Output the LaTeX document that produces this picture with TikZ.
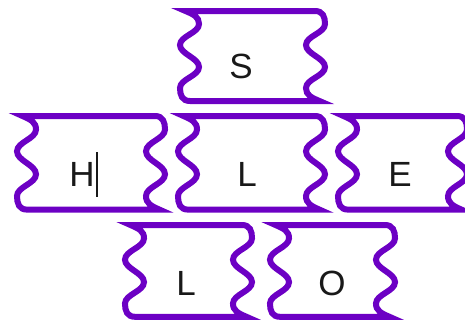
\documentclass[tikz,border=0pt]{standalone}
\usepackage{fontspec}
\setmainfont{Liberation Sans}
\definecolor{tilepurple}{RGB}{108,0,196}
\definecolor{txt}{RGB}{25,25,25}
\tikzset{
  tileline/.style={draw=tilepurple, line width=6pt, line join=miter, miter limit=10},
  lbl/.style={text=txt, inner sep=0pt, anchor=base, font=\fontsize{35}{42}\selectfont}
}
% #1 ox, #2 oy, #3 off, #4 yscale
\newcommand\mytile[4]{%
  \begin{scope}[shift={(#1,#2)}, yscale=#4]
    \path[tileline] (40,0) -- ({#3+17},0)
      .. controls ({#3+25},0) and ({#3+27},6) .. ({#3+27},13)
      .. controls ({#3+27},22) and ({#3+8},25) .. ({#3+8},34)
      .. controls ({#3+8},43) and ({#3+27},47) .. ({#3+27},56)
      .. controls ({#3+27},65) and ({#3+8},68) .. ({#3+8},77)
      .. controls ({#3+8},84) and ({#3+13},86.4) .. ({#3+21.5},90)
      -- (18,90)
      .. controls (10,90) and (8,84) .. (8,77)
      .. controls (8,68) and (27,65) .. (27,56)
      .. controls (27,47) and (8,43) .. (8,34)
      .. controls (8,25) and (27,22) .. (27,13)
      .. controls (27,6) and (22,3.6) .. (13.5,0)
      -- cycle;
  \end{scope}}
\begin{document}
\begin{tikzpicture}[x=1pt,y=-1pt]
  \useasboundingbox (0,0) rectangle (465,327);
  \mytile{172}{11}{126}{1}
  \mytile{9}{116}{129}{1.04}
  \mytile{170}{116}{128}{1.04}
  \mytile{330}{116}{110}{1.04}
  \mytile{117}{225}{108}{1.02}
  \mytile{262}{225}{106}{1.02}
  \node[lbl] (s) at (241,78) {S};
  \node[lbl] (h) at (82,186) {H};
  \node[lbl] (l1) at (247,186) {L};
  \node[lbl] (e) at (400,186) {E};
  \node[lbl] (l2) at (186,295) {L};
  \node[lbl] (o) at (332,295) {O};
  \draw[line width=1.3pt, txt] (97,152) -- (97,197);
\end{tikzpicture}
\end{document}
